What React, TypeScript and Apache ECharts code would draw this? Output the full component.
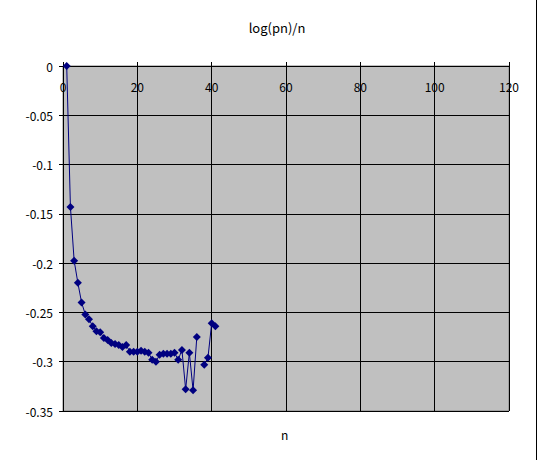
import React, { useEffect, useRef } from "react";
import * as echarts from "echarts";

const nValues: number[] = Array.from({ length: 41 }, (_, i) => i + 1);
const ratioValues: (number | null)[] = [
  0, -0.143, -0.1975, -0.22, -0.24, -0.252, -0.257, -0.264, -0.269, -0.27,
  -0.276, -0.278, -0.281, -0.282, -0.283, -0.285, -0.283, -0.29, -0.29, -0.29,
  -0.289, -0.29, -0.291, -0.298, -0.3, -0.293, -0.292, -0.292, -0.292, -0.291,
  -0.298, -0.288, -0.328, -0.291, -0.329, -0.275, null, -0.303, -0.296, -0.261,
  -0.264,
];
const titleText = "log(pn)/n";
const xName = "n";

const FONT = "'Noto Sans CJK JP', 'DejaVu Sans', sans-serif";

export default function App() {
  const ref = useRef<HTMLDivElement>(null);
  useEffect(() => {
    if (!ref.current) return;
    const chart = echarts.init(ref.current, undefined, { renderer: "svg" });
    const data = nValues.map((n, i) => [n, ratioValues[i]]);
    chart.setOption({
      animation: false,
      backgroundColor: "#ffffff",
      title: {
        text: titleText,
        left: 272,
        textAlign: "center",
        top: 16,
        textStyle: { fontFamily: FONT, fontSize: 13, fontWeight: "normal", color: "#000" },
      },
      grid: {
        left: 63,
        top: 66,
        width: 446,
        height: 345,
        show: true,
        backgroundColor: "#c0c0c0",
        borderColor: "#808080",
        borderWidth: 1,
      },
      xAxis: {
        type: "value",
        position: "top",
        min: 0,
        max: 120,
        interval: 20,
        axisLine: { show: true, onZero: false, lineStyle: { color: "#000", width: 1 } },
        axisTick: { show: true, inside: false, length: 4, lineStyle: { color: "#000" } },
        axisLabel: {
          inside: true,
          margin: 14,
          fontFamily: FONT,
          fontSize: 12,
          color: "#000",
        },
        splitLine: { show: true, lineStyle: { color: "#000", width: 1 } },
      },
      yAxis: {
        type: "value",
        min: -0.35,
        max: 0,
        interval: 0.05,
        axisLine: { show: true, lineStyle: { color: "#000", width: 1 } },
        axisTick: { show: true, inside: false, length: 4, lineStyle: { color: "#000" } },
        axisLabel: {
          margin: 10,
          fontFamily: FONT,
          fontSize: 12,
          color: "#000",
          formatter: (v: number) => String(Math.round(v * 100) / 100),
        },
        splitLine: { show: true, lineStyle: { color: "#000", width: 1 } },
      },
      series: [
        {
          type: "line",
          data,
          connectNulls: false,
          symbol: "diamond",
          symbolSize: 8,
          lineStyle: { color: "#000080", width: 1 },
          itemStyle: { color: "#000080" },
        },
      ],
      graphic: [
        {
          type: "text",
          left: 281,
          top: 428,
          style: { text: xName, font: `12px ${FONT}`, fill: "#000" },
        },
        {
          type: "line",
          shape: { x1: 536.5, y1: 0, x2: 536.5, y2: 460 },
          style: { stroke: "#000", lineWidth: 1 },
        },
      ],
    });
    return () => chart.dispose();
  }, []);
  return <div ref={ref} style={{ width: 538, height: 460, position: "absolute", left: 0, top: 0 }} />;
}
